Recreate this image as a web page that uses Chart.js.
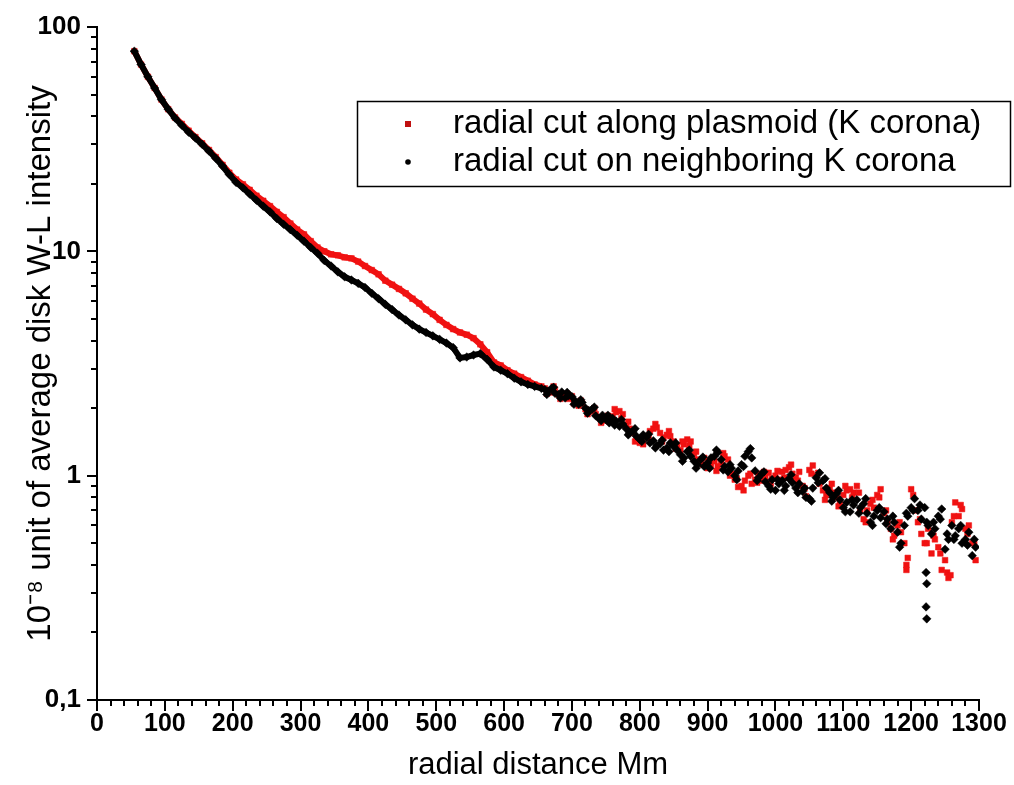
<!DOCTYPE html>
<html>
<head>
<meta charset="utf-8">
<script src="https://cdn.jsdelivr.net/npm/chart.js@4.4.1/dist/chart.umd.min.js"></script>
<style>
  body { margin: 0; background: #fff; }
  canvas { display: block; }
</style>
</head>
<body>
<canvas id="intensity" width="1014" height="785"></canvas>
<script>
// radial distance (Mm) of the smooth inner part, read every 10 Mm
var innerX = [55, 65, 75, 85, 95, 105, 115, 125, 135, 145,
              155, 165, 175, 185, 195, 205, 215, 225, 235, 245,
              255, 265, 275, 285, 295, 305, 315, 325, 335, 345,
              355, 365, 375, 385, 395, 405, 415, 425, 435, 445,
              455, 465, 475, 485, 495, 505, 515, 525, 535, 545,
              555, 565, 575, 585, 595, 605, 615, 625, 635, 645,
              655];

// noisy outer part, read every 5 Mm
var outerX = [660, 665, 670, 675, 680, 685, 690, 695, 700, 705,
              710, 715, 720, 725, 730, 735, 740, 745, 750, 755,
              760, 765, 770, 775, 780, 785, 790, 795, 800, 805,
              810, 815, 820, 825, 830, 835, 840, 845, 850, 855,
              860, 865, 870, 875, 880, 885, 890, 895, 900, 905,
              910, 915, 920, 925, 930, 935, 940, 945, 950, 955,
              960, 965, 970, 975, 980, 985, 990, 995, 1000, 1005,
              1010, 1015, 1020, 1025, 1030, 1035, 1040, 1045, 1050, 1055,
              1060, 1065, 1070, 1075, 1080, 1085, 1090, 1095, 1100, 1105,
              1110, 1115, 1120, 1125, 1130, 1135, 1140, 1145, 1150, 1155,
              1160, 1165, 1170, 1175, 1180, 1185, 1190, 1195, 1200, 1205,
              1210, 1215, 1220, 1225, 1230, 1235, 1240, 1245, 1250, 1255,
              1260, 1265, 1270, 1275, 1280, 1285, 1290, 1295];

// second read of the same cloud, the points lying between the ones above
var cloudX = [663, 673, 683, 693, 703, 713, 723, 733, 743, 753,
              763, 773, 783, 793, 803, 813, 823, 833, 843, 853,
              863, 873, 883, 893, 903, 913, 923, 933, 943, 953,
              963, 973, 983, 993, 1003, 1013, 1023, 1033, 1043, 1053,
              1063, 1073, 1083, 1093, 1103, 1113, 1123, 1133, 1143, 1153,
              1163, 1173, 1183, 1193, 1203, 1213, 1223, 1233, 1243, 1253,
              1263, 1273, 1283, 1293];

// plasmoid cut (red)
var plasmoidInner = [78, 68, 60, 53.5, 47.5, 43, 39.5, 37, 34.5, 32.3,
                     30.3, 28.3, 26.3, 24.3, 22.4, 20.9, 19.9, 18.8, 17.7, 16.8,
                     15.9, 15.0, 14.2, 13.3, 12.5, 11.9, 11.1, 10.4, 10.0, 9.7,
                     9.6, 9.4, 9.3, 9.0, 8.6, 8.25, 7.9, 7.4, 7.1, 6.8,
                     6.5, 6.15, 5.85, 5.5, 5.25, 4.95, 4.7, 4.5, 4.35, 4.25,
                     4.1, 3.85, 3.55, 3.2, 3.1, 2.95, 2.85, 2.75, 2.65, 2.55,
                     2.5];
var plasmoidOuter = [2.45, 2.40, 2.35, 2.42, 2.30, 2.25, 2.28, 2.20, 2.26, 2.12,
                     2.05, 2.10, 1.98, 1.92, 1.95, 1.88, 1.82, 1.76, 1.80, 1.74,
                     1.84, 1.92, 1.94, 1.88, 1.68, 1.62, 1.55, 1.45, 1.40, 1.38,
                     1.50, 1.58, 1.62, 1.64, 1.55, 1.48, 1.52, 1.50, 1.42, 1.36,
                     1.30, 1.38, 1.45, 1.42, 1.25, 1.18, 1.15, 1.20, 1.08, 1.12,
                     1.16, 1.10, 1.14, 1.22, 1.18, 1.02, 0.96, 0.89, 0.90, 0.95,
                     1.00, 0.92, 0.96, 1.02, 0.95, 0.98, 1.03, 0.97, 1.00, 0.96,
                     1.04, 1.06, 1.09, 1.02, 0.98, 1.04, 0.90, 0.81, 1.06, 1.11,
                     1.00, 0.92, 0.86, 0.82, 0.88, 0.84, 0.80, 0.76, 0.82, 0.86,
                     0.87, 0.84, 0.90, 0.70, 0.64, 0.70, 0.75, 0.72, 0.82, 0.87,
                     0.68, 0.62, 0.58, 0.54, 0.60, 0.56, 0.50, 0.43, 0.87, 0.70,
                     0.62, 0.55, 0.50, 0.58, 0.45, 0.52, 0.48, 0.38, 0.42, 0.35,
                     0.62, 0.76, 0.66, 0.71, 0.58, 0.60, 0.50, 0.42];
var plasmoidCloud = [2.32, 2.50, 2.20, 2.32, 2.10, 2.16, 1.88, 2.00, 1.72, 1.85,
                     1.98, 1.80, 1.74, 1.42, 1.46, 1.47, 1.70, 1.42, 1.58, 1.32,
                     1.42, 1.36, 1.28, 1.12, 1.16, 1.05, 1.26, 1.00, 0.97, 0.86,
                     1.02, 0.93, 1.04, 0.92, 1.05, 0.98, 1.12, 0.95, 0.88, 1.02,
                     1.03, 0.78, 0.92, 0.73, 0.90, 0.80, 0.84, 0.62, 0.78, 0.80,
                     0.70, 0.52, 0.62, 0.40, 0.82, 0.64, 0.50, 0.54, 0.45, 0.37,
                     0.66, 0.74, 0.55, 0.50];
var plasmoidExtraX = [1193, 1258];
var plasmoidExtraY = [0.38, 0.36];

// neighbouring corona cut (black)
var neighbourInner = [78, 68, 60, 53.5, 47.5, 43, 39.3, 36.5, 34, 32,
                      30, 28, 26, 24, 22, 20.3, 19.2, 18, 16.9, 15.9,
                      15, 14, 13.2, 12.5, 11.8, 11.1, 10.4, 9.8, 9.1, 8.6,
                      8.1, 7.7, 7.45, 7.2, 6.9, 6.5, 6.15, 5.8, 5.5, 5.2,
                      4.95, 4.7, 4.5, 4.35, 4.2, 4.05, 3.9, 3.72, 3.35, 3.38,
                      3.45, 3.5, 3.3, 3.05, 2.95, 2.85, 2.72, 2.62, 2.55, 2.5,
                      2.45];
var neighbourOuter = [2.42, 2.38, 2.45, 2.33, 2.30, 2.36, 2.22, 2.27, 2.25, 2.15,
                      2.08, 2.12, 2.00, 1.95, 1.98, 1.85, 1.80, 1.86, 1.78, 1.72,
                      1.80, 1.75, 1.66, 1.70, 1.62, 1.55, 1.58, 1.50, 1.45, 1.52,
                      1.48, 1.40, 1.43, 1.36, 1.39, 1.30, 1.33, 1.40, 1.35, 1.30,
                      1.24, 1.20, 1.28, 1.22, 1.16, 1.12, 1.18, 1.10, 1.14, 1.20,
                      1.22, 1.27, 1.18, 1.10, 1.04, 1.08, 1.00, 1.05, 1.12, 1.22,
                      1.28, 1.20, 1.05, 0.98, 1.02, 0.94, 0.90, 0.96, 0.86, 0.92,
                      0.95, 0.90, 0.97, 0.93, 0.88, 0.92, 0.85, 0.80, 0.79, 0.88,
                      0.98, 1.03, 0.95, 0.88, 0.84, 0.80, 0.83, 0.78, 0.72, 0.76,
                      0.69, 0.74, 0.78, 0.72, 0.75, 0.68, 0.62, 0.66, 0.70, 0.65,
                      0.69, 0.64, 0.58, 0.62, 0.56, 0.50, 0.60, 0.66, 0.72, 0.79,
                      0.70, 0.64, 0.72, 0.60, 0.55, 0.58, 0.66, 0.71, 0.47, 0.52,
                      0.60, 0.54, 0.58, 0.50, 0.52, 0.56, 0.44, 0.48];
var neighbourCloud = [2.30, 2.48, 2.22, 2.35, 2.08, 2.18, 1.90, 2.02, 1.76, 1.86,
                      1.68, 1.78, 1.52, 1.62, 1.42, 1.53, 1.33, 1.44, 1.28, 1.40,
                      1.16, 1.30, 1.08, 1.21, 1.08, 1.30, 1.06, 1.12, 0.96, 1.10,
                      1.32, 0.95, 1.04, 0.87, 0.96, 0.86, 1.01, 0.84, 0.88, 0.77,
                      0.93, 0.97, 0.77, 0.86, 0.69, 0.78, 0.68, 0.79, 0.60, 0.72,
                      0.61, 0.66, 0.48, 0.68, 0.70, 0.74, 0.62, 0.62, 0.64, 0.55,
                      0.52, 0.60, 0.49, 0.52];
var neighbourExtraX = [1222, 1223, 1222, 1223];
var neighbourExtraY = [0.37, 0.33, 0.26, 0.23];

var seriesNames = ['radial cut along plasmoid (K corona)', 'radial cut on neighboring K corona'];
var yTickValues = [0.1, 1, 10, 100];
var xTitle = 'radial distance Mm';
var yTitle = '10\u207B\u2078 unit of average disk W-L intensity';

var FONT = 'Liberation Sans, Arial, Helvetica, sans-serif';
var RED = '#f01212';
var BLACK = '#000000';
var LINE_END = 655;   // the markers merge into a solid trace up to here

function toPoints(inner, outer, cloud, extraX, extraY)
{
    var pts = [];
    innerX.forEach(function(x, i) { pts.push({x: x, y: inner[i]}); });
    outerX.forEach(function(x, i) { pts.push({x: x, y: outer[i]}); });
    cloudX.forEach(function(x, i) { pts.push({x: x, y: cloud[i]}); });
    extraX.forEach(function(x, i) { pts.push({x: x, y: extraY[i]}); });
    return pts;
}

function traceColor(color)
{
    return function(ctx) {
        return ctx.p1.parsed.x <= LINE_END && ctx.p0.parsed.x < ctx.p1.parsed.x ? color : 'rgba(0,0,0,0)';
    };
}

// small minor ticks on both axes
var minorTicks = {
    id: 'minorTicks',
    afterDraw: function(chart)
    {
        var ctx = chart.ctx, x = chart.scales.x, y = chart.scales.y;
        ctx.save();
        ctx.strokeStyle = '#000';
        ctx.lineWidth = 2;
        ctx.beginPath();
        for (var v = 20; v < 1300; v += 20) {
            if (v % 100 === 0) continue;
            var px = Math.round(x.getPixelForValue(v));
            ctx.moveTo(px, x.top);
            ctx.lineTo(px, x.top + 6);
        }
        [0.1, 1, 10].forEach(function(d) {
            for (var m = 2; m <= 9; m++) {
                var py = Math.round(y.getPixelForValue(d * m));
                ctx.moveTo(y.right, py);
                ctx.lineTo(y.right - 6, py);
            }
        });
        ctx.stroke();
        ctx.restore();
    }
};

// framed legend inside the plot, upper right
var legendBox = {
    id: 'legendBox',
    afterDraw: function(chart)
    {
        var ctx = chart.ctx, area = chart.chartArea;
        var left = area.left + 260, top = area.top + 74;
        var w = 653, h = 85;
        ctx.save();
        ctx.strokeStyle = '#000';
        ctx.lineWidth = 1.5;
        ctx.strokeRect(left + 0.5, top + 0.5, w, h);

        ctx.font = '33px ' + FONT;
        ctx.textBaseline = 'middle';
        var rows = [top + 23, top + 61];

        ctx.fillStyle = '#c01010';
        ctx.fillRect(left + 48, rows[0] - 3, 6, 6);
        ctx.fillStyle = BLACK;
        ctx.beginPath();
        ctx.arc(left + 51, rows[1], 2.8, 0, Math.PI * 2);
        ctx.fill();

        ctx.fillStyle = '#000';
        ctx.fillText(seriesNames[0], left + 96, rows[0]);
        ctx.fillText(seriesNames[1], left + 96, rows[1]);
        ctx.restore();
    }
};

new Chart(document.getElementById('intensity'), {
    type: 'scatter',
    data: {
        datasets: [{
            label: seriesNames[0],
            data: toPoints(plasmoidInner, plasmoidOuter, plasmoidCloud, plasmoidExtraX, plasmoidExtraY),
            showLine: true,
            borderWidth: 6,
            segment: { borderColor: traceColor(RED) },
            pointStyle: 'rect',
            pointRadius: 4,
            backgroundColor: RED,
            pointBorderColor: RED,
            pointBorderWidth: 0.5,
            order: 1
        }, {
            label: seriesNames[1],
            data: toPoints(neighbourInner, neighbourOuter, neighbourCloud, neighbourExtraX, neighbourExtraY),
            showLine: true,
            borderWidth: 6,
            segment: { borderColor: traceColor(BLACK) },
            pointStyle: 'rectRot',
            pointRadius: 4.3,
            backgroundColor: BLACK,
            pointBorderColor: BLACK,
            pointBorderWidth: 0.5,
            order: 0
        }]
    },
    options: {
        responsive: false,
        animation: false,
        devicePixelRatio: 1,
        layout: { padding: { top: 27, right: 35, left: 0, bottom: 0 } },
        plugins: {
            legend: { display: false },
            tooltip: { enabled: false }
        },
        scales: {
            x: {
                type: 'linear',
                min: 0,
                max: 1300,
                afterFit: function(scale) { scale.height = 85; },
                ticks: {
                    stepSize: 100,
                    autoSkip: false,
                    maxRotation: 0,
                    padding: -2,
                    color: '#000',
                    font: { family: FONT, size: 25, weight: 'bold' },
                    callback: function(v) { return String(v); }
                },
                grid: {
                    drawOnChartArea: false,
                    drawTicks: true,
                    tickLength: 11,
                    color: '#000',
                    lineWidth: 2
                },
                border: { display: true, color: '#000', width: 2 },
                title: {
                    display: true,
                    text: xTitle,
                    color: '#000',
                    padding: { top: 0, bottom: 1 },
                    font: { family: FONT, size: 31 }
                }
            },
            y: {
                type: 'logarithmic',
                min: 0.1,
                max: 100,
                afterFit: function(scale) { scale.width = 97; },
                afterBuildTicks: function(scale) {
                    scale.ticks = yTickValues.map(function(v) { return {value: v, major: true}; });
                },
                ticks: {
                    padding: 6,
                    color: '#000',
                    font: { family: FONT, size: 26, weight: 'bold' },
                    callback: function(v) { return v === 0.1 ? '0,1' : String(v); }
                },
                grid: {
                    drawOnChartArea: false,
                    drawTicks: true,
                    tickLength: 10,
                    color: '#000',
                    lineWidth: 2
                },
                border: { display: true, color: '#000', width: 2 },
                title: {
                    display: true,
                    text: yTitle,
                    color: '#000',
                    padding: { top: 21, bottom: 0 },
                    font: { family: FONT, size: 33 }
                }
            }
        }
    },
    plugins: [minorTicks, legendBox]
});
</script>
</body>
</html>
